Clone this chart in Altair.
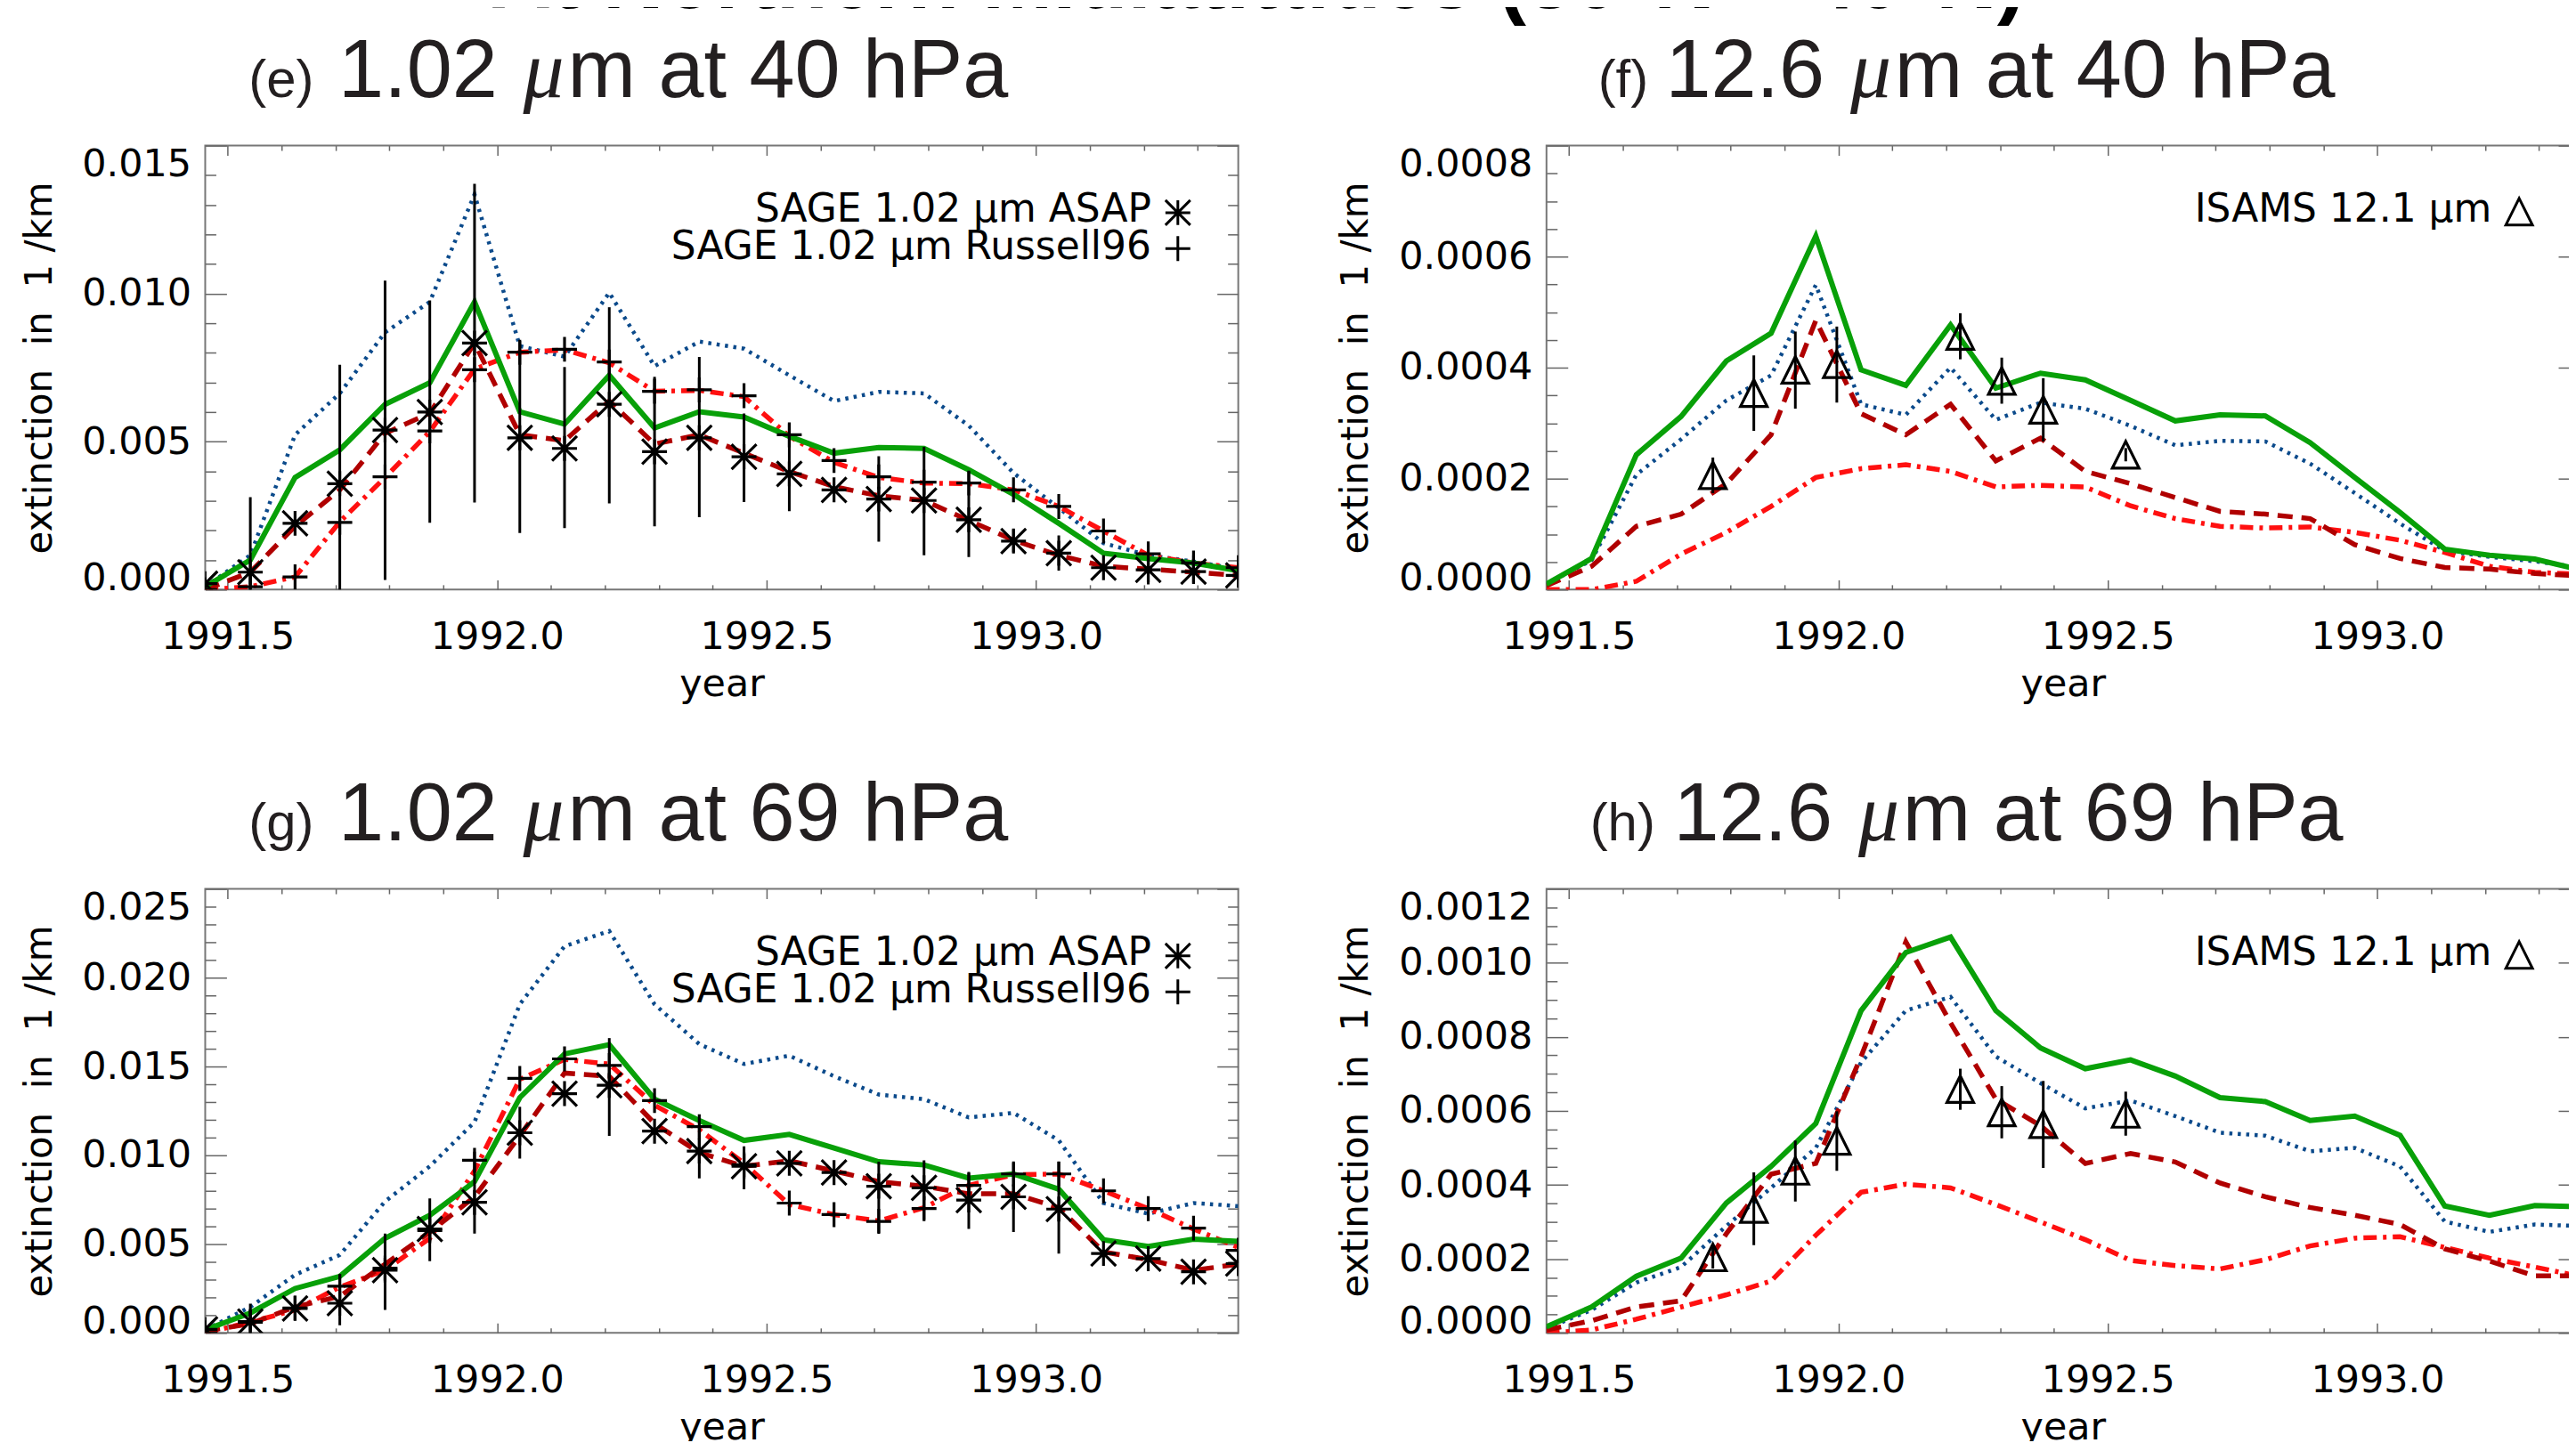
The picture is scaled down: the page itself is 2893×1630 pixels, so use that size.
import altair as alt
import pandas as pd

# ---------------- time axis (mid-month, Jun 1991 .. May 1993) ----------------
MONTHS = [1991.458, 1991.542, 1991.625, 1991.708, 1991.792, 1991.875, 1991.958,
          1992.042, 1992.125, 1992.208, 1992.292, 1992.375, 1992.458, 1992.542,
          1992.625, 1992.708, 1992.792, 1992.875, 1992.958, 1993.042, 1993.125,
          1993.208, 1993.292, 1993.375]
ISAMS_T = [1991.767, 1991.843, 1991.920, 1991.997, 1992.226, 1992.303, 1992.380, 1992.533]

X_DOMAIN = [1991.4583, 1993.375]
X_MAJOR = [1991.5, 1992.0, 1992.5, 1993.0]
X_MINOR = [1991.6, 1991.7, 1991.8, 1991.9, 1992.1, 1992.2, 1992.3, 1992.4,
           1992.6, 1992.7, 1992.8, 1992.9, 1993.1, 1993.2, 1993.3]

# ---------------- (e) 1.02 um at 40 hPa ----------------
E_GREEN = [0.0001, 0.0010, 0.00379, 0.00472, 0.00626, 0.00699, 0.00972, 0.00601, 0.00559, 0.00724, 0.00546, 0.00601,
           0.00583, 0.00518, 0.00461, 0.00480, 0.00477, 0.00405, 0.00322, 0.00224, 0.00123, 0.00105, 0.00090, 0.00064]
E_BLUE = [0.0001, 0.00116, 0.00523, 0.00663, 0.00869, 0.00972, 0.01335, 0.00823, 0.00787, 0.01003, 0.00755, 0.00838,
          0.00814, 0.00724, 0.00637, 0.00668, 0.00663, 0.00554, 0.00394, 0.00276, 0.00157, 0.00116, 0.00095, 0.00069]
E_DRED = [0.0, 0.00059, 0.00214, 0.00337, 0.00528, 0.00596, 0.00833, 0.00523, 0.00503, 0.00637, 0.00492, 0.00523,
          0.00461, 0.00399, 0.00348, 0.00317, 0.00301, 0.00234, 0.00167, 0.00116, 0.00079, 0.00069, 0.00059, 0.00048]
E_RED = [0.0, 0.0001, 0.00043, 0.00229, 0.00379, 0.00534, 0.00745, 0.00802, 0.00810, 0.00766, 0.00670, 0.00673,
         0.00652, 0.00518, 0.00430, 0.00379, 0.00360, 0.00358, 0.00337, 0.00281, 0.00198, 0.00116, 0.00090, 0.00074]
E_ASAP = [0.0002, 0.00059, 0.00224, 0.00358, 0.00539, 0.00600, 0.00833, 0.00513, 0.00477, 0.00626, 0.00466, 0.00513,
          0.00449, 0.00391, 0.00337, 0.00306, 0.00301, 0.00236, 0.00164, 0.00123, 0.00074, 0.00067, 0.00061, 0.00048]
E_ASAP_HI = [0.0002, 0.00312, 0.00224, 0.00760, 0.01044, 0.00977, 0.01371, 0.00840, 0.00752, 0.00954, 0.00719, 0.00786,
             0.00595, 0.00560, 0.00337, 0.00451, 0.00482, 0.00399, 0.00203, 0.00183, 0.00074, 0.00157, 0.00116, 0.00048]
E_ASAP_LO = [0.0002, -0.0019, 0.00224, -0.0004, 0.00033, 0.00226, 0.00294, 0.00191, 0.00208, 0.00291, 0.00214, 0.00245,
             0.00296, 0.00265, 0.00337, 0.00162, 0.00116, 0.00110, 0.00126, 0.00064, 0.00074, 0.00018, 0.00023, 0.00048]
E_RUSS = [0.0, 0.0001, 0.00043, 0.00227, 0.00381, 0.00536, 0.00743, 0.00802, 0.00812, 0.00769, 0.00670, 0.00675,
          0.00655, 0.00523, 0.00436, 0.00381, 0.00363, 0.00360, 0.00337, 0.00281, 0.00198, 0.00121, 0.00090, 0.00074]

# ---------------- (g) 1.02 um at 69 hPa ----------------
G_GREEN = [0.00017, 0.00112, 0.00250, 0.00318, 0.00533, 0.00662, 0.00852, 0.01325, 0.01571, 0.01623, 0.01316, 0.01196,
           0.01084, 0.01118, 0.01041, 0.00964, 0.00946, 0.00872, 0.00895, 0.00809, 0.00525, 0.00487, 0.00528, 0.00516]
G_BLUE = [0.00017, 0.00146, 0.00327, 0.00439, 0.00740, 0.00938, 0.01187, 0.01850, 0.02177, 0.02263, 0.01850, 0.01626,
          0.01514, 0.01561, 0.01445, 0.01342, 0.01316, 0.01213, 0.01239, 0.01084, 0.00731, 0.00671, 0.00731, 0.00714]
G_DRED = [0.0001, 0.00052, 0.00146, 0.00206, 0.00387, 0.00568, 0.00766, 0.01110, 0.01463, 0.01445, 0.01179, 0.01015,
          0.00938, 0.00969, 0.00912, 0.00852, 0.00826, 0.00783, 0.00783, 0.00705, 0.00456, 0.00413, 0.00353, 0.00387]
G_RED = [0.0, 0.00060, 0.00129, 0.00258, 0.00353, 0.00533, 0.00912, 0.01428, 0.01540, 0.01514, 0.01282, 0.01144,
         0.00955, 0.00723, 0.00666, 0.00631, 0.00705, 0.00831, 0.00890, 0.00895, 0.00800, 0.00700, 0.00585, 0.00482]
G_ASAP = [0.0002, 0.00064, 0.00138, 0.00167, 0.00353, 0.00585, 0.00735, 0.01127, 0.01347, 0.01394, 0.01136, 0.01024,
          0.00938, 0.00955, 0.00903, 0.00826, 0.00817, 0.00748, 0.00766, 0.00697, 0.00447, 0.00418, 0.00344, 0.00390]
G_ASAP_HI = [0.0002, 0.00164, 0.00138, 0.00327, 0.00559, 0.00757, 0.01020, 0.01273, 0.01347, 0.01660, 0.01136, 0.01170,
             0.01050, 0.00955, 0.00903, 0.00964, 0.00972, 0.00907, 0.00958, 0.00964, 0.00447, 0.00418, 0.00344, 0.00390]
G_ASAP_LO = [0.0002, 0.00014, 0.00138, 0.00043, 0.00129, 0.00404, 0.00559, 0.00981, 0.01347, 0.01110, 0.01136, 0.00870,
             0.00809, 0.00955, 0.00903, 0.00563, 0.00637, 0.00585, 0.00568, 0.00447, 0.00447, 0.00418, 0.00344, 0.00390]
G_RUSS = [0.0, 0.00060, 0.00140, 0.00263, 0.00365, 0.00576, 0.00972, 0.01433, 0.01543, 0.01506, 0.01308, 0.01161,
          0.00947, 0.00731, 0.00666, 0.00628, 0.00700, 0.00831, 0.00895, 0.00895, 0.00800, 0.00700, 0.00590, 0.00465]

# ---------------- (f) 12.6 um at 40 hPa ----------------
F_GREEN = [0.00001, 0.000056, 0.000243, 0.000312, 0.000412, 0.000462, 0.000637, 0.000396, 0.000368, 0.000477, 0.000363, 0.000390,
           0.000378, 0.000341, 0.000304, 0.000315, 0.000313, 0.000265, 0.000202, 0.000139, 0.000073, 0.000062, 0.000055, 0.000036]
F_BLUE = [0.00001, 0.000053, 0.000207, 0.000271, 0.000341, 0.000386, 0.000549, 0.000334, 0.000315, 0.000400, 0.000306, 0.000337,
          0.000326, 0.000295, 0.000260, 0.000268, 0.000267, 0.000227, 0.000174, 0.000119, 0.000070, 0.000059, 0.000051, 0.000040]
F_DRED = [0.000007, 0.000042, 0.000114, 0.000136, 0.000191, 0.000279, 0.000485, 0.000317, 0.000279, 0.000334, 0.000232, 0.000273,
          0.000213, 0.000191, 0.000166, 0.000141, 0.000136, 0.000128, 0.000081, 0.000056, 0.000040, 0.000037, 0.000029, 0.000025]
F_RED = [0.0, 0.0, 0.000015, 0.000064, 0.000103, 0.000150, 0.000202, 0.000218, 0.000225, 0.000213, 0.000185, 0.000188,
         0.000185, 0.000151, 0.000128, 0.000114, 0.000111, 0.000113, 0.000103, 0.000089, 0.000067, 0.000042, 0.000031, 0.000028]
F_ISAMS = [0.000206, 0.000354, 0.000396, 0.000406, 0.000457, 0.000376, 0.000324, 0.000243]
F_ISAMS_HI = [0.000238, 0.000422, 0.000465, 0.000474, 0.000498, 0.000418, 0.000381, 0.000255]
F_ISAMS_LO = [0.000174, 0.000286, 0.000326, 0.000337, 0.000415, 0.000335, 0.000267, 0.000231]

# ---------------- (h) 12.6 um at 69 hPa ----------------
H_GREEN = [0.0000165, 0.000070, 0.000153, 0.000202, 0.000351, 0.000450, 0.000566, 0.000871, 0.001028, 0.001070, 0.000871, 0.000770,
           0.000714, 0.000738, 0.000694, 0.000636, 0.000625, 0.000574, 0.000586, 0.000534, 0.000343, 0.000318, 0.000344, 0.000341]
H_BLUE = [0.000012, 0.000062, 0.000136, 0.000178, 0.000289, 0.000392, 0.000500, 0.000731, 0.000871, 0.000908, 0.000747, 0.000675,
          0.000607, 0.000628, 0.000586, 0.000541, 0.000533, 0.000491, 0.000500, 0.000450, 0.000301, 0.000273, 0.000293, 0.000289]
H_DRED = [0.000008, 0.000033, 0.000070, 0.000087, 0.000268, 0.000429, 0.000458, 0.000747, 0.001057, 0.000838, 0.000632, 0.000560,
          0.000458, 0.000485, 0.000462, 0.000405, 0.000368, 0.000339, 0.000318, 0.000293, 0.000227, 0.000194, 0.000154, 0.000154]
H_RED = [0.0, 0.000008, 0.000037, 0.000070, 0.000103, 0.000140, 0.000264, 0.000380, 0.000402, 0.000392, 0.000347, 0.000300,
         0.000252, 0.000196, 0.000182, 0.000173, 0.000198, 0.000235, 0.000256, 0.000260, 0.000231, 0.000202, 0.000178, 0.000153]
H_ISAMS = [0.000204, 0.000335, 0.000438, 0.000519, 0.000659, 0.000596, 0.000564, 0.000592]
H_ISAMS_HI = [0.000234, 0.000434, 0.000520, 0.000599, 0.000714, 0.000667, 0.000681, 0.000652]
H_ISAMS_LO = [0.000174, 0.000237, 0.000355, 0.000438, 0.000603, 0.000526, 0.000446, 0.000533]

# ---------------- y ticks ----------------
E_Y_MAJOR = [0.0, 0.005, 0.010, 0.015]
E_Y_MINOR = [k / 1000 for k in range(1, 15) if k % 5]
G_Y_MAJOR = [0.0, 0.005, 0.010, 0.015, 0.020, 0.025]
G_Y_MINOR = [k / 1000 for k in range(1, 25) if k % 5]
F_Y_MAJOR = [0.0, 0.0002, 0.0004, 0.0006, 0.0008]
F_Y_MINOR = [k * 0.00005 for k in range(1, 16) if k % 4]
H_Y_MAJOR = [0.0, 0.0002, 0.0004, 0.0006, 0.0008, 0.0010, 0.0012]
H_Y_MINOR = [k * 0.00005 for k in range(1, 24) if k % 4]

# ---------------- styling / layout ----------------
W, H = 1163, 500
GAP_X, GAP_Y = 347, 337
C_GREEN, C_BLUE, C_DRED, C_RED = "#08a008", "#0b4a8b", "#b00000", "#ff1010"
HFONT = "DejaVu Sans"
TFONT = "Liberation Sans"
TICK_C = "#666666"
ASTER = "M-1,0L1,0M0,-1L0,1M-1,-1L1,1M-1,1L1,-1"
PLUS = "M-1,0L1,0M0,-1L0,1"
TRI = "M-1,1L0,-1L1,1Z"
YTITLE = "extinction\u00a0 in\u00a0 1 /km"

XS = alt.Scale(domain=X_DOMAIN, nice=False, zero=False)


def x_axes():
    base = dict(domain=False, grid=False, tickColor=TICK_C, tickWidth=1.5)
    return [
        alt.Axis(orient="bottom", values=X_MAJOR, format=".1f", ticks=False, labelPadding=66,
                 labelBaseline="alphabetic", labelFontSize=43, labelFont=HFONT, labelColor="black",
                 title="year", titleX=W / 2, titleY=119.5, titleFontSize=43, titleFont=HFONT,
                 titleFontWeight="normal", titleColor="black",
                 titleBaseline="alphabetic", titleAlign="center", domain=False, grid=False),
        alt.Axis(orient="top", offset=-H, values=X_MAJOR, tickSize=11, labels=False, title=None, **base),
        alt.Axis(orient="top", offset=-H, values=X_MINOR, tickSize=5.5, labels=False, title=None, **base),
        alt.Axis(orient="bottom", offset=-H, values=X_MAJOR, tickSize=11, labels=False, title=None, **base),
        alt.Axis(orient="bottom", offset=-H, values=X_MINOR, tickSize=5.5, labels=False, title=None, **base),
    ]


def y_axes(ymaj, ymin, fmt, title_x):
    base = dict(domain=False, grid=False, tickColor=TICK_C, tickWidth=1.5)
    return [
        alt.Axis(orient="left", values=ymaj, format=fmt, ticks=False, labelPadding=16, labelFlush=True,
                 labelOffset={"condition": {"test": "datum.value <= 0", "value": 9}, "value": 0},
                 labelFontSize=43, labelFont=HFONT, labelColor="black",
                 title=YTITLE, titleX=title_x, titleY=H / 2, titleAngle=270, titleBaseline="alphabetic",
                 titleAlign="center", titleFontSize=42, titleFont=HFONT, titleFontWeight="normal",
                 titleColor="black", domain=False, grid=False),
        alt.Axis(orient="right", offset=-W, values=ymaj, tickSize=24, labels=False, title=None, **base),
        alt.Axis(orient="right", offset=-W, values=ymin, tickSize=12, labels=False, title=None, **base),
        alt.Axis(orient="left", offset=-W, values=ymaj, tickSize=24, labels=False, title=None, **base),
        alt.Axis(orient="left", offset=-W, values=ymin, tickSize=12, labels=False, title=None, **base),
    ]


def text_layer(s, x, y, size, font, align="left", style="normal", weight="normal", color="black"):
    return alt.Chart(pd.DataFrame({"s": [s]})).mark_text(
        align=align, baseline="alphabetic", font=font, fontSize=size, fontStyle=style,
        fontWeight=weight, color=color
    ).encode(x=alt.value(x), y=alt.value(y), text="s:N")


def marker_layer(shape, x, y):
    return alt.Chart(pd.DataFrame({"s": [0]})).mark_point(
        shape=shape, size=784 if shape != TRI else 900, filled=False, color="black",
        strokeWidth=3, opacity=1
    ).encode(x=alt.value(x), y=alt.value(y))


def panel(lines, obs, kind, ydom, ymaj, ymin, fmt, title_x, title_parts, extra=()):
    xa = x_axes()
    ya = y_axes(ymaj, ymin, fmt, title_x)
    ys = alt.Scale(domain=ydom, nice=False, zero=False)
    green, blue, dred, red = lines
    df = pd.DataFrame({"t": MONTHS, "green": green, "blue": blue, "dred": dred, "red": red})
    styles = [("blue", C_BLUE, 4.5, [3.5, 6]), ("red", C_RED, 5.5, [15, 7, 4, 7]),
              ("dred", C_DRED, 5.5, [17, 10]), ("green", C_GREEN, 6, None)]
    layers = []
    for k, (col, color, width, dash) in enumerate(styles):
        mk = dict(color=color, strokeWidth=width, clip=True)
        if dash:
            mk["strokeDash"] = dash
        layers.append(alt.Chart(df).mark_line(**mk).encode(
            x=alt.X("t:Q", scale=XS, axis=xa[k]),
            y=alt.Y(f"{col}:Q", scale=ys, axis=ya[k])))
    layers.append(alt.Chart(obs).mark_rule(color="black", strokeWidth=3, clip=True).encode(
        x=alt.X("t:Q", scale=XS, axis=xa[4]),
        y=alt.Y("lo:Q", scale=ys, axis=ya[4]), y2="hi:Q"))
    pt = dict(filled=False, color="black", strokeWidth=3.2, opacity=1, clip=True)
    if kind == "sage":
        layers.append(alt.Chart(obs).mark_point(shape=ASTER, size=784, **pt).encode(
            x=alt.X("t:Q", scale=XS, axis=None), y=alt.Y("val:Q", scale=ys, axis=None)))
        layers.append(alt.Chart(obs).mark_point(shape=PLUS, size=784, **pt).encode(
            x=alt.X("t:Q", scale=XS, axis=None), y=alt.Y("russ:Q", scale=ys, axis=None)))
        layers.append(text_layer("SAGE 1.02 \u03bcm ASAP", 1065, 86, 44, HFONT, align="right"))
        layers.append(text_layer("SAGE 1.02 \u03bcm Russell96", 1065, 128, 44, HFONT, align="right"))
        layers.append(marker_layer(ASTER, 1095, 75.5))
        layers.append(marker_layer(PLUS, 1095, 116))
    else:
        layers.append(alt.Chart(obs).mark_point(shape=TRI, size=900, **pt).encode(
            x=alt.X("t:Q", scale=XS, axis=None), y=alt.Y("val:Q", scale=ys, axis=None)))
        layers.append(text_layer("ISAMS 12.1 \u03bcm", 1064, 86, 44, HFONT, align="right"))
        layers.append(marker_layer(TRI, 1095, 74.5))
    (ptxt, px), (mtxt, mx), (utxt, ux), (rtxt, rx) = title_parts
    tc = "#231f20"
    layers.append(text_layer(ptxt, px, -55, 60, TFONT, color=tc))
    layers.append(text_layer(mtxt, mx, -55, 92, TFONT, color=tc))
    layers.append(text_layer(utxt, ux, -55, 92, "Liberation Serif", style="italic", color=tc))
    layers.append(text_layer(rtxt, rx, -55, 92, TFONT, color=tc))
    layers.extend(extra)
    return alt.layer(*layers).resolve_axis(x="independent", y="independent").properties(width=W, height=H)


E_OBS = pd.DataFrame({"t": MONTHS, "val": E_ASAP, "lo": E_ASAP_LO, "hi": E_ASAP_HI, "russ": E_RUSS})
G_OBS = pd.DataFrame({"t": MONTHS, "val": G_ASAP, "lo": G_ASAP_LO, "hi": G_ASAP_HI, "russ": G_RUSS})
F_OBS = pd.DataFrame({"t": ISAMS_T, "val": F_ISAMS, "lo": F_ISAMS_LO, "hi": F_ISAMS_HI})
H_OBS = pd.DataFrame({"t": ISAMS_T, "val": H_ISAMS, "lo": H_ISAMS_LO, "hi": H_ISAMS_HI})

main_title = text_layer("At Northern Midlatitudes (30\u00b0N \u2013 40\u00b0N)", 321, -155, 95, TFONT,
                        weight="bold", color="black")

pe = panel((E_GREEN, E_BLUE, E_DRED, E_RED), E_OBS, "sage", [0, 0.015], E_Y_MAJOR, E_Y_MINOR, ".3f", -173.5,
           [("(e)", 49), ("1.02", 150), ("\u03bc", 358), ("m at 40 hPa", 408)], extra=(main_title,))
pf = panel((F_GREEN, F_BLUE, F_DRED, F_RED), F_OBS, "isams", [0, 0.0008], F_Y_MAJOR, F_Y_MINOR, ".4f", -201.5,
           [("(f)", 58), ("12.6", 134), ("\u03bc", 342), ("m at 40 hPa", 392)])
pg = panel((G_GREEN, G_BLUE, G_DRED, G_RED), G_OBS, "sage", [0, 0.025], G_Y_MAJOR, G_Y_MINOR, ".3f", -173.5,
           [("(g)", 49), ("1.02", 150), ("\u03bc", 358), ("m at 69 hPa", 408)])
ph = panel((H_GREEN, H_BLUE, H_DRED, H_RED), H_OBS, "isams", [0, 0.0012], H_Y_MAJOR, H_Y_MINOR, ".4f", -201.5,
           [("(h)", 49), ("12.6", 143), ("\u03bc", 351), ("m at 69 hPa", 401)])

chart = alt.concat(pe, pf, pg, ph, columns=2, spacing={"row": GAP_Y, "column": GAP_X}, bounds="flush").properties(
    padding={"left": 14, "top": -78, "right": -14, "bottom": -10}
).configure_view(stroke="#777777", strokeWidth=2).configure_axis(
    labelFont=HFONT, labelFontSize=43, labelColor="black", titleFont=HFONT, titleFontSize=43,
    titleFontWeight="normal", titleColor="black"
)

chart.save("out.html", embed_options={"renderer": "svg", "actions": False})
